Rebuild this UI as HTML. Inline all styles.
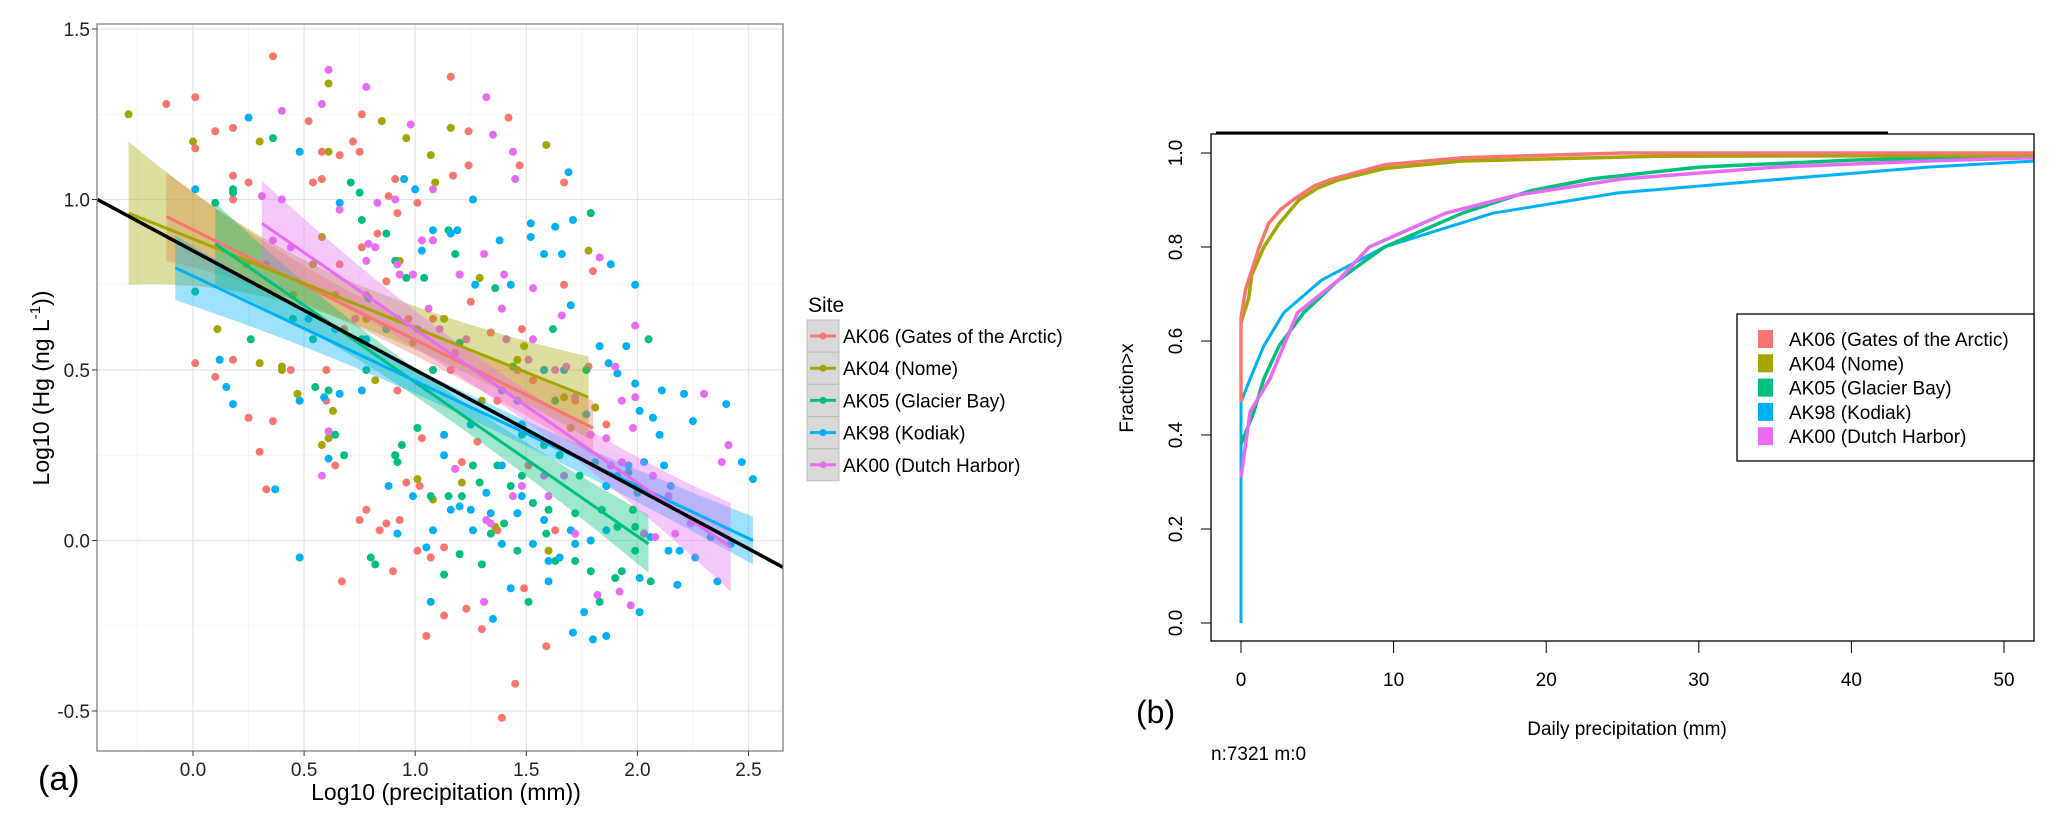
<!DOCTYPE html>
<html><head><meta charset="utf-8"><style>
html,body{margin:0;padding:0;background:#fff;}
svg{display:block;font-family:"Liberation Sans",sans-serif;}
</style></head><body>
<svg id="fig" width="2059" height="830" viewBox="0 0 2059 830" xmlns="http://www.w3.org/2000/svg">
<g id="pa"></g>
<g id="pb"></g>
</svg>
<script>
// ---------- Panel (a) data ----------
const siteNames = ["AK06 (Gates of the Arctic)","AK04 (Nome)","AK05 (Glacier Bay)","AK98 (Kodiak)","AK00 (Dutch Harbor)"];
const siteColors = ["#F8766D","#A3A500","#00BF7D","#00B0F6","#E76BF3"];
const xTicksA = [0,0.5,1,1.5,2,2.5];
const xTickLabelsA = ["0.0","0.5","1.0","1.5","2.0","2.5"];
const yTicksA = [-0.5,0,0.5,1,1.5];
const yTickLabelsA = ["-0.5","0.0","0.5","1.0","1.5"];
const redX = [-0.12,0.01,0.01,0.10,0.18,0.18,0.18,0.25,0.36,0.52,0.54,0.58,0.58,0.66,0.72,0.75,0.76,0.91,0.88,1.01,1.16,1.17,1.24,1.24,1.42,1.47,1.67,1.80,0.01,0.10,0.18,0.25,0.30,0.33,0.36,0.44,0.60,0.60,0.67,0.75,0.78,0.84,0.87,0.93,0.96,1.02,1.05,1.07,1.13,1.13,1.23,1.30,1.39,1.45,1.49,1.59,1.21,1.28,1.03,0.92,1.08,1.16,1.34,1.48,1.67,0.92,0.83,0.76,0.66,0.78,0.97,1.08,1.25,1.37,1.51,1.72,1.63,0.90,1.01,0.64,0.48,1.78,1.86,0.68,0.87,1.46,1.25,1.37,1.53];
const redY = [1.28,1.30,1.15,1.20,1.21,1.07,1.00,1.05,1.42,1.23,1.05,1.14,1.06,1.13,1.17,1.14,1.25,1.06,1.01,0.99,1.36,1.07,1.20,1.10,1.24,1.10,1.05,0.79,0.52,0.48,0.53,0.36,0.26,0.15,0.35,0.50,0.50,0.41,-0.12,0.06,0.09,0.03,0.05,0.06,0.17,0.16,-0.28,-0.05,-0.02,-0.22,-0.20,-0.26,-0.52,-0.42,-0.14,-0.31,0.23,0.29,0.30,0.44,0.65,0.50,0.61,0.62,0.75,0.96,0.90,0.86,0.81,0.72,0.65,0.50,0.34,0.41,0.22,0.41,0.03,-0.09,-0.03,0.22,0.41,0.51,0.34,0.62,0.76,0.50,0.70,0.03,0.47];
const oliveX = [-0.29,0.00,0.01,0.11,0.30,0.30,0.33,0.61,0.61,0.85,0.96,1.07,1.09,1.16,1.59,1.78,0.58,0.58,0.61,0.63,0.82,0.92,0.93,1.01,1.08,1.21,1.36,1.46,1.49,1.60,0.91,1.20,1.29,1.39,1.46,1.58,1.70,0.78,0.64,0.54,0.99,1.13,0.47,0.40,0.24,0.45,1.30,1.67,1.81,0.40];
const oliveY = [1.25,1.17,0.73,0.62,1.17,0.52,0.81,1.34,1.14,1.23,1.18,1.13,1.05,1.21,1.16,0.85,0.89,0.28,0.30,0.38,0.47,0.82,0.82,0.18,0.12,0.17,0.04,0.08,0.57,-0.03,0.25,0.78,0.77,0.68,0.53,0.50,0.33,0.65,0.72,0.81,0.58,0.65,0.43,0.51,0.81,0.72,0.41,0.42,0.39,0.50];
const greenX = [0.01,0.10,0.18,0.18,0.36,0.71,0.75,0.76,0.87,0.91,0.96,1.04,1.15,1.18,1.36,1.44,1.62,1.79,2.05,0.55,0.61,0.64,0.68,0.80,0.82,0.91,0.92,0.94,1.01,1.07,1.15,1.21,1.26,1.29,1.34,1.40,1.46,1.51,1.59,1.63,1.72,1.79,1.83,1.90,1.93,1.99,2.03,2.06,1.13,1.20,1.30,1.91,1.98,1.84,1.72,1.60,1.53,1.43,1.37,1.74,1.86,1.96,2.00,1.48,1.58,1.65,1.81,0.54,0.78,1.08,1.20,0.87,0.76,0.45,0.26,1.77,1.63,1.48,1.99];
const greenY = [0.73,0.99,1.03,1.02,1.18,1.05,1.02,0.94,0.90,0.82,0.77,0.77,0.91,0.84,0.74,0.51,0.62,0.96,0.59,0.45,0.44,0.31,0.25,-0.05,-0.07,0.25,0.23,0.28,0.33,0.13,0.13,0.13,0.22,0.17,0.02,0.05,-0.03,-0.18,0.02,-0.06,-0.06,-0.09,-0.18,-0.11,-0.09,-0.03,0.02,-0.12,-0.10,-0.04,-0.07,0.04,0.09,0.09,0.08,0.09,0.11,0.16,0.22,0.19,0.16,0.20,0.14,0.31,0.28,0.25,0.23,0.59,0.50,0.50,0.58,0.62,0.59,0.65,0.59,0.50,0.41,0.19,0.04];
const blueX = [0.01,0.12,0.15,0.18,0.25,0.37,0.48,0.48,0.48,0.59,0.61,0.66,0.66,0.76,0.79,0.88,0.92,0.95,1.00,1.03,1.05,1.07,1.08,1.13,1.16,1.19,1.26,1.26,1.27,1.35,1.38,1.43,1.43,1.46,1.52,1.52,1.58,1.63,1.66,1.69,1.71,1.70,1.71,1.76,1.80,1.86,1.83,1.87,1.88,1.91,1.95,1.99,1.99,2.01,2.01,2.01,2.07,2.10,2.11,2.12,2.15,2.18,2.21,2.25,2.33,2.36,2.40,2.42,2.47,2.52,2.19,2.14,2.26,2.06,1.86,1.79,1.72,1.65,1.60,1.53,1.39,1.34,1.32,1.25,1.20,1.16,1.08,0.99,1.58,1.70,1.86,1.91,1.96,2.03,1.60,1.48,1.39,1.25,1.13,1.39,1.46,1.48,1.58,1.67,1.77,1.01,0.92,0.78,0.64,0.52];
const blueY = [1.03,0.53,0.45,0.40,1.24,0.15,1.14,-0.05,0.41,0.42,0.24,0.99,0.43,0.44,0.71,0.16,0.02,1.06,1.03,0.85,-0.02,-0.18,0.91,0.25,0.90,0.91,1.00,0.03,0.75,-0.23,0.88,0.75,-0.14,0.08,0.93,0.89,0.84,0.92,0.84,1.08,0.94,0.69,-0.27,-0.21,-0.29,-0.28,0.57,0.52,0.81,0.49,0.57,0.75,0.46,0.38,-0.11,-0.21,0.36,0.31,0.44,0.22,0.16,-0.13,0.43,0.35,0.01,-0.12,0.40,-0.01,0.23,0.18,-0.03,-0.03,-0.05,0.01,0.03,0.00,-0.01,-0.05,-0.06,-0.01,-0.01,0.08,0.14,0.09,0.10,0.09,0.03,0.13,0.06,0.03,0.16,0.19,0.22,0.23,-0.12,0.13,0.22,0.34,0.31,0.44,0.41,0.34,0.50,0.50,0.37,0.62,0.65,0.59,0.62,0.65];
const pinkX = [0.61,0.40,0.58,0.78,0.98,1.08,1.32,1.35,1.44,1.45,0.31,0.40,0.36,0.44,0.66,0.83,0.91,0.79,0.82,0.93,1.03,1.08,1.20,1.31,1.40,1.53,1.66,1.68,1.83,1.90,1.99,1.99,2.30,2.41,2.38,1.98,1.93,1.86,1.79,1.67,1.60,1.58,1.72,1.48,1.44,1.34,1.31,1.82,1.92,1.97,2.03,2.08,2.17,2.24,2.07,2.14,1.93,1.88,0.58,0.61,1.18,1.32,1.18,1.11,1.06,0.99,0.92,0.78,0.73,1.23,1.41,1.51,1.63,1.53,1.39,1.72];
const pinkY = [1.38,1.26,1.28,1.33,1.22,1.03,1.30,1.19,1.14,1.06,1.01,1.00,0.88,0.86,0.97,0.99,1.00,0.87,0.86,0.78,0.88,0.88,0.78,0.84,0.78,0.74,0.66,0.51,0.83,0.51,0.63,0.42,0.43,0.28,0.23,0.33,0.41,0.30,0.31,0.19,0.13,0.19,0.02,0.16,0.13,0.05,-0.18,-0.16,-0.15,-0.19,0.02,0.01,0.02,0.05,0.19,0.13,0.23,0.22,0.19,0.32,0.21,0.06,0.55,0.62,0.68,0.78,0.81,0.82,0.65,0.59,0.59,0.53,0.50,0.59,0.68,0.42];
// regression fits per site
const fitX0 = [-0.12,-0.29,0.10,-0.08,0.31];
const fitX1 = [1.80,1.78,2.05,2.52,2.42];
const fitY0 = [0.95,0.96,0.87,0.80,0.93];
const fitY1 = [0.33,0.42,-0.01,0.00,-0.02];
const bandStart = [0.13,0.21,0.12,0.095,0.125];
const bandMid = [0.045,0.06,0.04,0.035,0.045];
const bandEnd = [0.08,0.12,0.085,0.07,0.13];
const overallX = [-0.43,2.66];
const overallY = [1.0,-0.08];

// ---------- Panel (b) data ----------
const xTicksB = [0,10,20,30,40,50];
const yTicksB = [0,0.2,0.4,0.6,0.8,1.0];
const yTickLabelsB = ["0.0","0.2","0.4","0.6","0.8","1.0"];
const cdfRedX = [0,0,0.3,0.6,1.2,1.8,2.6,3.4,4.8,6,7.4,9.4,14.5,25,52];
const cdfRedY = [0.47,0.65,0.71,0.74,0.80,0.85,0.88,0.90,0.93,0.945,0.957,0.975,0.99,1.0,1.0];
const cdfOliveX = [0,0,0.5,0.7,1.5,2.5,3.8,5,6.4,9.4,14.5,27,52];
const cdfOliveY = [0.64,0.64,0.69,0.74,0.80,0.85,0.90,0.925,0.943,0.967,0.983,0.993,0.995];
const cdfGreenX = [0,0,0.85,1.5,2.5,4.1,6.4,9.4,14.5,19,23,30,40,52];
const cdfGreenY = [0.38,0.38,0.45,0.52,0.59,0.66,0.73,0.80,0.872,0.92,0.945,0.97,0.985,0.995];
const cdfBlueX = [0,0,0.6,1.5,2.8,5.3,9.4,16.5,24.7,34.9,45,52];
const cdfBlueY = [0,0.47,0.52,0.59,0.66,0.73,0.80,0.872,0.915,0.943,0.97,0.983];
const cdfPinkX = [0,0,0.6,1.9,3.7,6.4,8.4,13.4,18,25,35,45,52];
const cdfPinkY = [0.31,0.31,0.45,0.52,0.66,0.73,0.80,0.872,0.91,0.945,0.97,0.983,0.99];
const legendNamesB = ["AK06 (Gates of the Arctic)","AK04 (Nome)","AK05 (Glacier Bay)","AK98 (Kodiak)","AK00 (Dutch Harbor)"];

const NS = "http://www.w3.org/2000/svg";
function mk(tag, attrs, parent){ const e=document.createElementNS(NS,tag); for(const k in attrs) e.setAttribute(k,attrs[k]); parent.appendChild(e); return e; }

// ---------- Panel (a) ----------
const pa = document.getElementById('pa');
const AL=97, AR=783, AT=24, AB=751;
const ax = v => 193 + v*222.2;
const ay = v => 29 + (1.5 - v)*341;
let e;
e = mk('rect',{x:AL,y:AT,width:AR-AL,height:AB-AT,fill:'#fff'},pa);


const clipA = mk('clipPath',{id:'clipA'},pa);
mk('rect',{x:AL,y:AT,width:AR-AL,height:AB-AT},clipA);
const gridA = mk('g',{},pa);


for (let v=-0.5; v<=2.75; v+=0.25){ const major = Math.abs(v*2-Math.round(v*2))<1e-6; const X=ax(v); if(X<AL||X>AR) continue; mk('line',{x1:X,x2:X,y1:AT,y2:AB,stroke:major?'#e6e6e6':'#f3f3f3','stroke-width':major?1.2:0.8},gridA);}
for (let v=-0.75; v<=1.5; v+=0.25){ const major = Math.abs(v*2-Math.round(v*2))<1e-6; const Y=ay(v); if(Y<AT||Y>AB) continue; mk('line',{y1:Y,y2:Y,x1:AL,x2:AR,stroke:major?'#e6e6e6':'#f3f3f3','stroke-width':major?1.2:0.8},gridA);}
const dataA = mk('g',{'clip-path':'url(#clipA)'},pa);


const allX=[redX,oliveX,greenX,blueX,pinkX], allY=[redY,oliveY,greenY,blueY,pinkY];
const siteKeys=['ak06','ak04','ak05','ak98','ak00'];
for(let s=0;s<5;s++){
  const g = mk('g',{},dataA);
  
  
  for(let i=0;i<allX[s].length;i++){
    const c = mk('circle',{cx:ax(allX[s][i]),cy:ay(allY[s][i]),r:4,fill:siteColors[s]},g);
    
    
  }
}
for(let s=0;s<5;s++){
  const n=30, top=[], bot=[];
  for(let k=0;k<=n;k++){
    const t=k/n; const xv=fitX0[s]+(fitX1[s]-fitX0[s])*t; const yv=fitY0[s]+(fitY1[s]-fitY0[s])*t;
    const u=2*t-1; const hEdge = u<0?bandStart[s]:bandEnd[s];
    const h = bandMid[s] + (hEdge-bandMid[s])*u*u;
    top.push(ax(xv)+','+ay(yv+h)); bot.unshift(ax(xv)+','+ay(yv-h));
  }
  const band = mk('polygon',{points:top.concat(bot).join(' '),fill:siteColors[s],'fill-opacity':0.38},dataA);
  
  
}
for(let s=0;s<5;s++){
  const l = mk('line',{x1:ax(fitX0[s]),y1:ay(fitY0[s]),x2:ax(fitX1[s]),y2:ay(fitY1[s]),stroke:siteColors[s],'stroke-width':3},dataA);
  
  
}
e = mk('line',{x1:ax(overallX[0]),y1:ay(overallY[0]),x2:ax(overallX[1]),y2:ay(overallY[1]),stroke:'#000','stroke-width':3.5},dataA);


e = mk('rect',{x:AL,y:AT,width:AR-AL,height:AB-AT,fill:'none',stroke:'#808080','stroke-width':1.3},pa);


const xAxA = mk('g',{},pa);


xTicksA.forEach((v,i)=>{ mk('line',{x1:ax(v),x2:ax(v),y1:AB,y2:AB+5,stroke:'#333'},xAxA);
  const t=mk('text',{x:ax(v),y:AB+25,'text-anchor':'middle','font-size':19,fill:'#222'},xAxA); t.textContent=xTickLabelsA[i];
  
   });
const yAxA = mk('g',{},pa);


yTicksA.forEach((v,i)=>{ mk('line',{x1:AL-5,x2:AL,y1:ay(v),y2:ay(v),stroke:'#333'},yAxA);
  const t=mk('text',{x:AL-7,y:ay(v)+7,'text-anchor':'end','font-size':19,fill:'#222'},yAxA); t.textContent=yTickLabelsA[i];
  
   });
e = mk('text',{x:446,y:800,'text-anchor':'middle','font-size':23,fill:'#000'},pa); e.textContent='Log10 (precipitation (mm))';


e = mk('text',{x:0,y:0,'text-anchor':'middle','font-size':23,fill:'#000',transform:'translate(49,388) rotate(-90)'},pa);
e.innerHTML='Log10 (Hg (ng L<tspan dy="-9" font-size="15">-1</tspan><tspan dy="9">))</tspan>';


e = mk('text',{x:38,y:790,'font-size':34,fill:'#000'},pa); e.textContent='(a)';


const legA = mk('g',{},pa);


e = mk('text',{x:808,y:312,'font-size':21,fill:'#000'},legA); e.textContent='Site';


for(let s=0;s<5;s++){
  const y0=320+s*32.2;
  const g=mk('g',{},legA);
  
  
  mk('rect',{x:807,y:y0,width:32,height:32,fill:'#d9d9d9',stroke:'#bdbdbd','stroke-width':1},g);
  mk('line',{x1:810,x2:836,y1:y0+16,y2:y0+16,stroke:siteColors[s],'stroke-width':3},g);
  mk('circle',{cx:823,cy:y0+16,r:3.5,fill:siteColors[s]},g);
  const t=mk('text',{x:843,y:y0+23,'font-size':19,fill:'#000'},g); t.textContent=siteNames[s];
}

// ---------- Panel (b) ----------
const pb = document.getElementById('pb');
const BL=1211, BR=2034, BT=134, BB=641;
const bx = v => 1241 + v*15.26;
const by = v => 623 - v*470;
const clipB = mk('clipPath',{id:'clipB'},pb);
mk('rect',{x:BL,y:BT,width:BR-BL,height:BB-BT},clipB);
const dataB = mk('g',{'clip-path':'url(#clipB)'},pb);


const cdfX=[cdfRedX,cdfOliveX,cdfGreenX,cdfBlueX,cdfPinkX], cdfY=[cdfRedY,cdfOliveY,cdfGreenY,cdfBlueY,cdfPinkY];
const order=[3,2,4,1,0];
order.forEach(s=>{
  let d='';
  for(let i=0;i<cdfX[s].length;i++){ d += (i?'L':'M')+bx(cdfX[s][i]).toFixed(1)+','+by(cdfY[s][i]).toFixed(1)+' '; }
  const p=mk('path',{d:d,fill:'none',stroke:siteColors[s],'stroke-width':s===3?3:3.5,'stroke-linejoin':'round'},dataB);
  
  
});
e = mk('rect',{x:BL,y:BT,width:BR-BL,height:BB-BT,fill:'none',stroke:'#000','stroke-width':1.3},pb);


e = mk('line',{x1:1216,x2:1888,y1:133,y2:133,stroke:'#000','stroke-width':3},pb);


const xAxB = mk('g',{},pb);


xTicksB.forEach(v=>{ mk('line',{x1:bx(v),x2:bx(v),y1:BB,y2:BB+12,stroke:'#000'},xAxB);
  const t=mk('text',{x:bx(v),y:686,'text-anchor':'middle','font-size':19,fill:'#000'},xAxB); t.textContent=String(v);
  
   });
const yAxB = mk('g',{},pb);


yTicksB.forEach((v,i)=>{ mk('line',{x1:BL-10,x2:BL,y1:by(v),y2:by(v),stroke:'#000'},yAxB);
  const t=mk('text',{x:0,y:0,'text-anchor':'middle','font-size':19,fill:'#000',transform:'translate(1182,'+by(v)+') rotate(-90)'},yAxB); t.textContent=yTickLabelsB[i];
  
   });
e = mk('text',{x:1627,y:735,'text-anchor':'middle','font-size':19,fill:'#000'},pb); e.textContent='Daily precipitation (mm)';


e = mk('text',{x:0,y:0,'text-anchor':'middle','font-size':19,fill:'#000',transform:'translate(1133,388) rotate(-90)'},pb); e.textContent='Fraction>x';


e = mk('text',{x:1136,y:723,'font-size':32,fill:'#000'},pb); e.textContent='(b)';


e = mk('text',{x:1211,y:760,'font-size':19,fill:'#000'},pb); e.textContent='n:7321 m:0';


const legB = mk('g',{},pb);


mk('rect',{x:1737,y:314,width:297,height:147,fill:'#fff',stroke:'#000','stroke-width':1.3},legB);
for(let s=0;s<5;s++){
  const cy=339+s*24.3;
  const g=mk('g',{},legB);
  
  
  mk('rect',{x:1758,y:cy-9,width:15,height:18,fill:siteColors[s]},g);
  const t=mk('text',{x:1789,y:cy+7,'font-size':19,fill:'#000'},g); t.textContent=legendNamesB[s];
}
</script>
</body></html>
